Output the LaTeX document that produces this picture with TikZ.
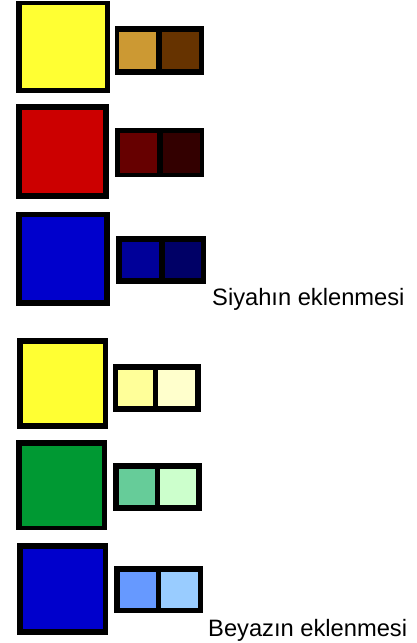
\documentclass[tikz,border=0pt]{standalone}
\usepackage{fontspec}
\setmainfont{Liberation Sans}
\definecolor{cyel}{HTML}{FFFF33}
\definecolor{ctan}{HTML}{CC9933}
\definecolor{cbrown}{HTML}{663300}
\definecolor{cred}{HTML}{CC0000}
\definecolor{cred2}{HTML}{660000}
\definecolor{cred3}{HTML}{330000}
\definecolor{cblue}{HTML}{0000CC}
\definecolor{cblue2}{HTML}{000099}
\definecolor{cblue3}{HTML}{000066}
\definecolor{cly1}{HTML}{FFFF99}
\definecolor{cly2}{HTML}{FFFFCC}
\definecolor{cgreen}{HTML}{009933}
\definecolor{cg2}{HTML}{66CC99}
\definecolor{cg3}{HTML}{CCFFCC}
\definecolor{clb1}{HTML}{6699FF}
\definecolor{clb2}{HTML}{99CCFF}
\tikzset{
  frame/.style={fill=black},
  label/.style={anchor=base west, inner sep=0pt, font=\fontsize{23.7}{28}\selectfont}
}
\begin{document}
\begin{tikzpicture}[x=1pt,y=-1pt]
\useasboundingbox (0,0) rectangle (417,643);
% row 1
\fill[frame] (16,1) rectangle (110,93);
\fill[cyel] (22,5) rectangle (104.5,87.5);
\fill[frame] (115,26) rectangle (204,75);
\fill[ctan] (119,32) rectangle (156,69);
\fill[cbrown] (162,32) rectangle (199,69);
% row 2
\fill[frame] (16,104) rectangle (108.5,199);
\fill[cred] (22,110) rectangle (103.3,193.3);
\fill[frame] (114.7,128.3) rectangle (204,177.3);
\fill[cred2] (120,133.3) rectangle (157.3,172.7);
\fill[cred3] (162.7,133.3) rectangle (200,172.7);
% row 3
\fill[frame] (16,211.7) rectangle (110,305.7);
\fill[cblue] (22,216.7) rectangle (104,300);
\fill[frame] (116,235.7) rectangle (206,284);
\fill[cblue2] (122.3,241.7) rectangle (159,278.3);
\fill[cblue3] (164.7,241.7) rectangle (201.3,278.3);
\node[label] (t1) at (212,305) {Siyahın eklenmesi};
% row 4
\fill[frame] (16.7,338.3) rectangle (108.3,429);
\fill[cyel] (22.7,344) rectangle (102.7,423.3);
\fill[frame] (113.3,364.3) rectangle (200.7,411.7);
\fill[cly1] (117.7,370) rectangle (153.3,406);
\fill[cly2] (158,370) rectangle (195.3,406);
% row 5
\fill[frame] (16,440) rectangle (107.3,530);
\fill[cgreen] (22,445.7) rectangle (101.7,525.7);
\fill[frame] (113.3,463.3) rectangle (201.7,510.7);
\fill[cg2] (119,469.3) rectangle (155,505);
\fill[cg3] (160.3,469.3) rectangle (196,505);
% row 6
\fill[frame] (16.7,542.7) rectangle (108.3,635);
\fill[cblue] (22.7,548.7) rectangle (103.3,629.3);
\fill[frame] (114.3,566) rectangle (203.3,613.3);
\fill[clb1] (120,571.7) rectangle (156,607.7);
\fill[clb2] (161.3,571.7) rectangle (198.3,607.7);
\node[label] (t2) at (208,636) {Beyazın eklenmesi};
\end{tikzpicture}
\end{document}
